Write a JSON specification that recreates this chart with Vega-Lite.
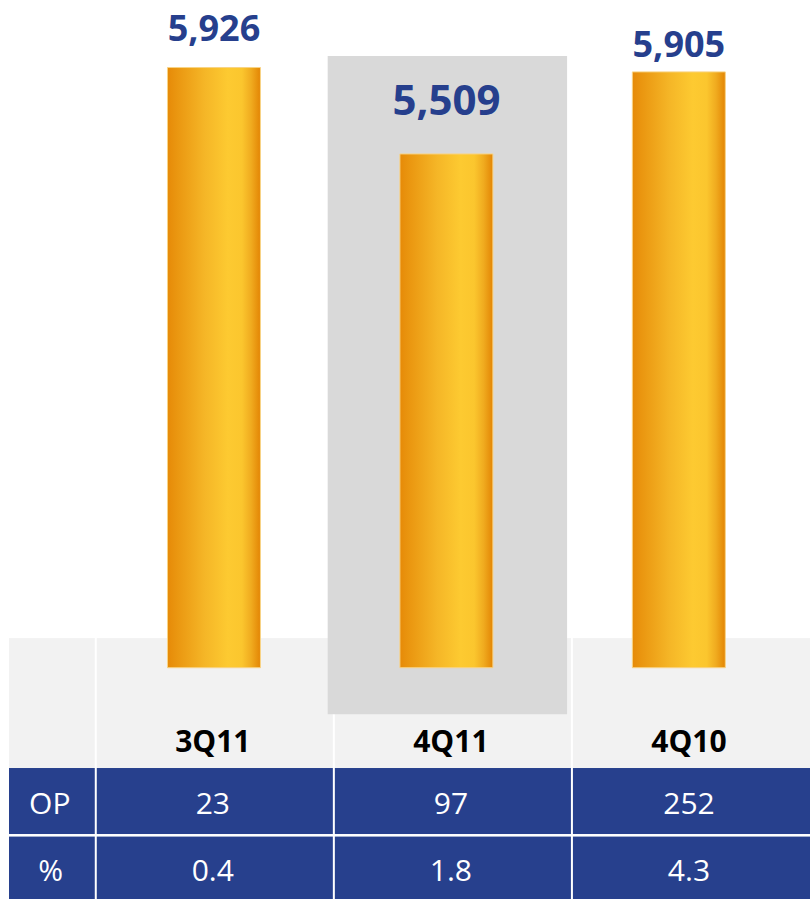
{
  "$schema": "https://vega.github.io/schema/vega-lite/v6.json",
  "width": 811,
  "height": 900,
  "autosize": {"type": "fit", "contains": "padding"},
  "padding": {"left": 8, "right": 0, "top": 0, "bottom": 0},
  "background": "#FFFFFF",
  "config": {"view": {"stroke": null}, "axis": {"disable": true}, "legend": {"disable": true}},
  "data": {
    "values": [
      {"quarter": "3Q11", "sales": 5926, "op": 23, "pct": 0.4, "highlight": false},
      {"quarter": "4Q11", "sales": 5509, "op": 97, "pct": 1.8, "highlight": true},
      {"quarter": "4Q10", "sales": 5905, "op": 252, "pct": 4.3, "highlight": false}
    ]
  },
  "encoding": {
    "y": {"field": "sales", "type": "quantitative", "axis": null,
      "scale": {"domain": [1914, 6247], "nice": false, "zero": false}}
  },
  "layer": [
    {
      "encoding": {
        "x": {"field": "quarter", "type": "nominal", "axis": null,
          "scale": {"domain": ["3Q11", "4Q11", "4Q10"], "paddingInner": 0, "paddingOuter": 0.18225, "align": 1}}
      },
      "layer": [
        {
          "mark": {"type": "rect", "fill": "#F2F2F2"},
          "encoding": {
            "x": null,
            "y": {"datum": 3171, "type": "quantitative"},
            "y2": {"datum": 1914}
          }
        },
        {
          "mark": {"type": "rect", "fill": "#27408D"},
          "encoding": {
            "x": null,
            "y": {"datum": 2545, "type": "quantitative"},
            "y2": {"datum": 1914}
          }
        },
        {
          "mark": {"type": "rule", "stroke": "#FFFFFF", "strokeWidth": 2},
          "encoding": {
            "x": {"field": "quarter", "type": "nominal", "bandPosition": 0},
            "y": null
          }
        },
        {
          "mark": {"type": "rule", "stroke": "#FFFFFF", "strokeWidth": 2},
          "encoding": {
            "x": null,
            "y": {"datum": 2222, "type": "quantitative"}
          }
        },
        {
          "mark": {"type": "text", "font": "Open Sans", "fontWeight": "bold", "fontSize": 30, "color": "#000000", "align": "center", "baseline": "alphabetic", "dx": -2},
          "encoding": {
            "y": {"datum": 2622, "type": "quantitative"},
            "text": {"field": "quarter"}
          }
        },
        {
          "mark": {"type": "text", "font": "Open Sans", "fontSize": 30, "color": "#FFFFFF", "align": "center", "baseline": "alphabetic", "dx": -2},
          "encoding": {
            "y": {"datum": 2323, "type": "quantitative"},
            "text": {"field": "op"}
          }
        },
        {
          "mark": {"type": "text", "font": "Open Sans", "fontSize": 30, "color": "#FFFFFF", "align": "center", "baseline": "alphabetic", "dx": -2},
          "encoding": {
            "y": {"datum": 2002, "type": "quantitative"},
            "text": {"field": "pct", "format": ".1f"}
          }
        },
        {
          "transform": [{"filter": "datum.quarter === '3Q11'"}],
          "mark": {"type": "text", "text": "OP", "font": "Open Sans", "fontSize": 30, "color": "#FFFFFF", "align": "center", "baseline": "alphabetic", "dx": -46},
          "encoding": {
            "x": {"field": "quarter", "type": "nominal", "bandPosition": 0},
            "y": {"datum": 2323, "type": "quantitative"}
          }
        },
        {
          "transform": [{"filter": "datum.quarter === '3Q11'"}],
          "mark": {"type": "text", "text": "%", "font": "Open Sans", "fontSize": 30, "color": "#FFFFFF", "align": "center", "baseline": "alphabetic", "dx": -45},
          "encoding": {
            "x": {"field": "quarter", "type": "nominal", "bandPosition": 0},
            "y": {"datum": 2002, "type": "quantitative"}
          }
        }
      ]
    },
    {
      "encoding": {
        "x": {"field": "quarter", "type": "nominal", "axis": null,
          "scale": {"domain": ["3Q11", "4Q11", "4Q10"], "paddingInner": 0, "paddingOuter": 0.2231, "align": 0.8558}}
      },
      "layer": [
        {
          "transform": [{"filter": "datum.highlight"}],
          "mark": {"type": "bar", "fill": "#D9D9D9", "width": {"band": 1.03}, "xOffset": 1},
          "encoding": {
            "y": {"datum": 5982, "type": "quantitative"},
            "y2": {"datum": 2805}
          }
        },
        {
          "mark": {
            "type": "bar",
            "width": {"band": 0.4},
            "stroke": "#F8D486",
            "strokeWidth": 1,
            "fill": {
              "gradient": "linear", "x1": 0, "y1": 0, "x2": 1, "y2": 0,
              "stops": [
                {"offset": 0, "color": "#E68A08"},
                {"offset": 0.1, "color": "#EA9610"},
                {"offset": 0.4, "color": "#F5B627"},
                {"offset": 0.65, "color": "#FDCA31"},
                {"offset": 0.8, "color": "#FBC62E"},
                {"offset": 0.9, "color": "#F0AB1F"},
                {"offset": 1, "color": "#E38504"}
              ]
            }
          },
          "encoding": {
            "y2": {"datum": 3030}
          }
        },
        {
          "transform": [{"filter": "datum.quarter === '3Q11'"}],
          "mark": {"type": "text", "font": "Open Sans", "fontWeight": "bold", "fontSize": 36, "color": "#263F8D", "align": "center", "baseline": "alphabetic", "dy": -27},
          "encoding": {"text": {"field": "sales", "format": ","}}
        },
        {
          "transform": [{"filter": "datum.quarter === '4Q11'"}],
          "mark": {"type": "text", "font": "Open Sans", "fontWeight": "bold", "fontSize": 42, "color": "#263F8D", "align": "center", "baseline": "alphabetic", "dy": -39},
          "encoding": {"text": {"field": "sales", "format": ","}}
        },
        {
          "transform": [{"filter": "datum.quarter === '4Q10'"}],
          "mark": {"type": "text", "font": "Open Sans", "fontWeight": "bold", "fontSize": 36, "color": "#263F8D", "align": "center", "baseline": "alphabetic", "dy": -15},
          "encoding": {"text": {"field": "sales", "format": ","}}
        }
      ]
    }
  ],
  "resolve": {"scale": {"x": "independent"}}
}
